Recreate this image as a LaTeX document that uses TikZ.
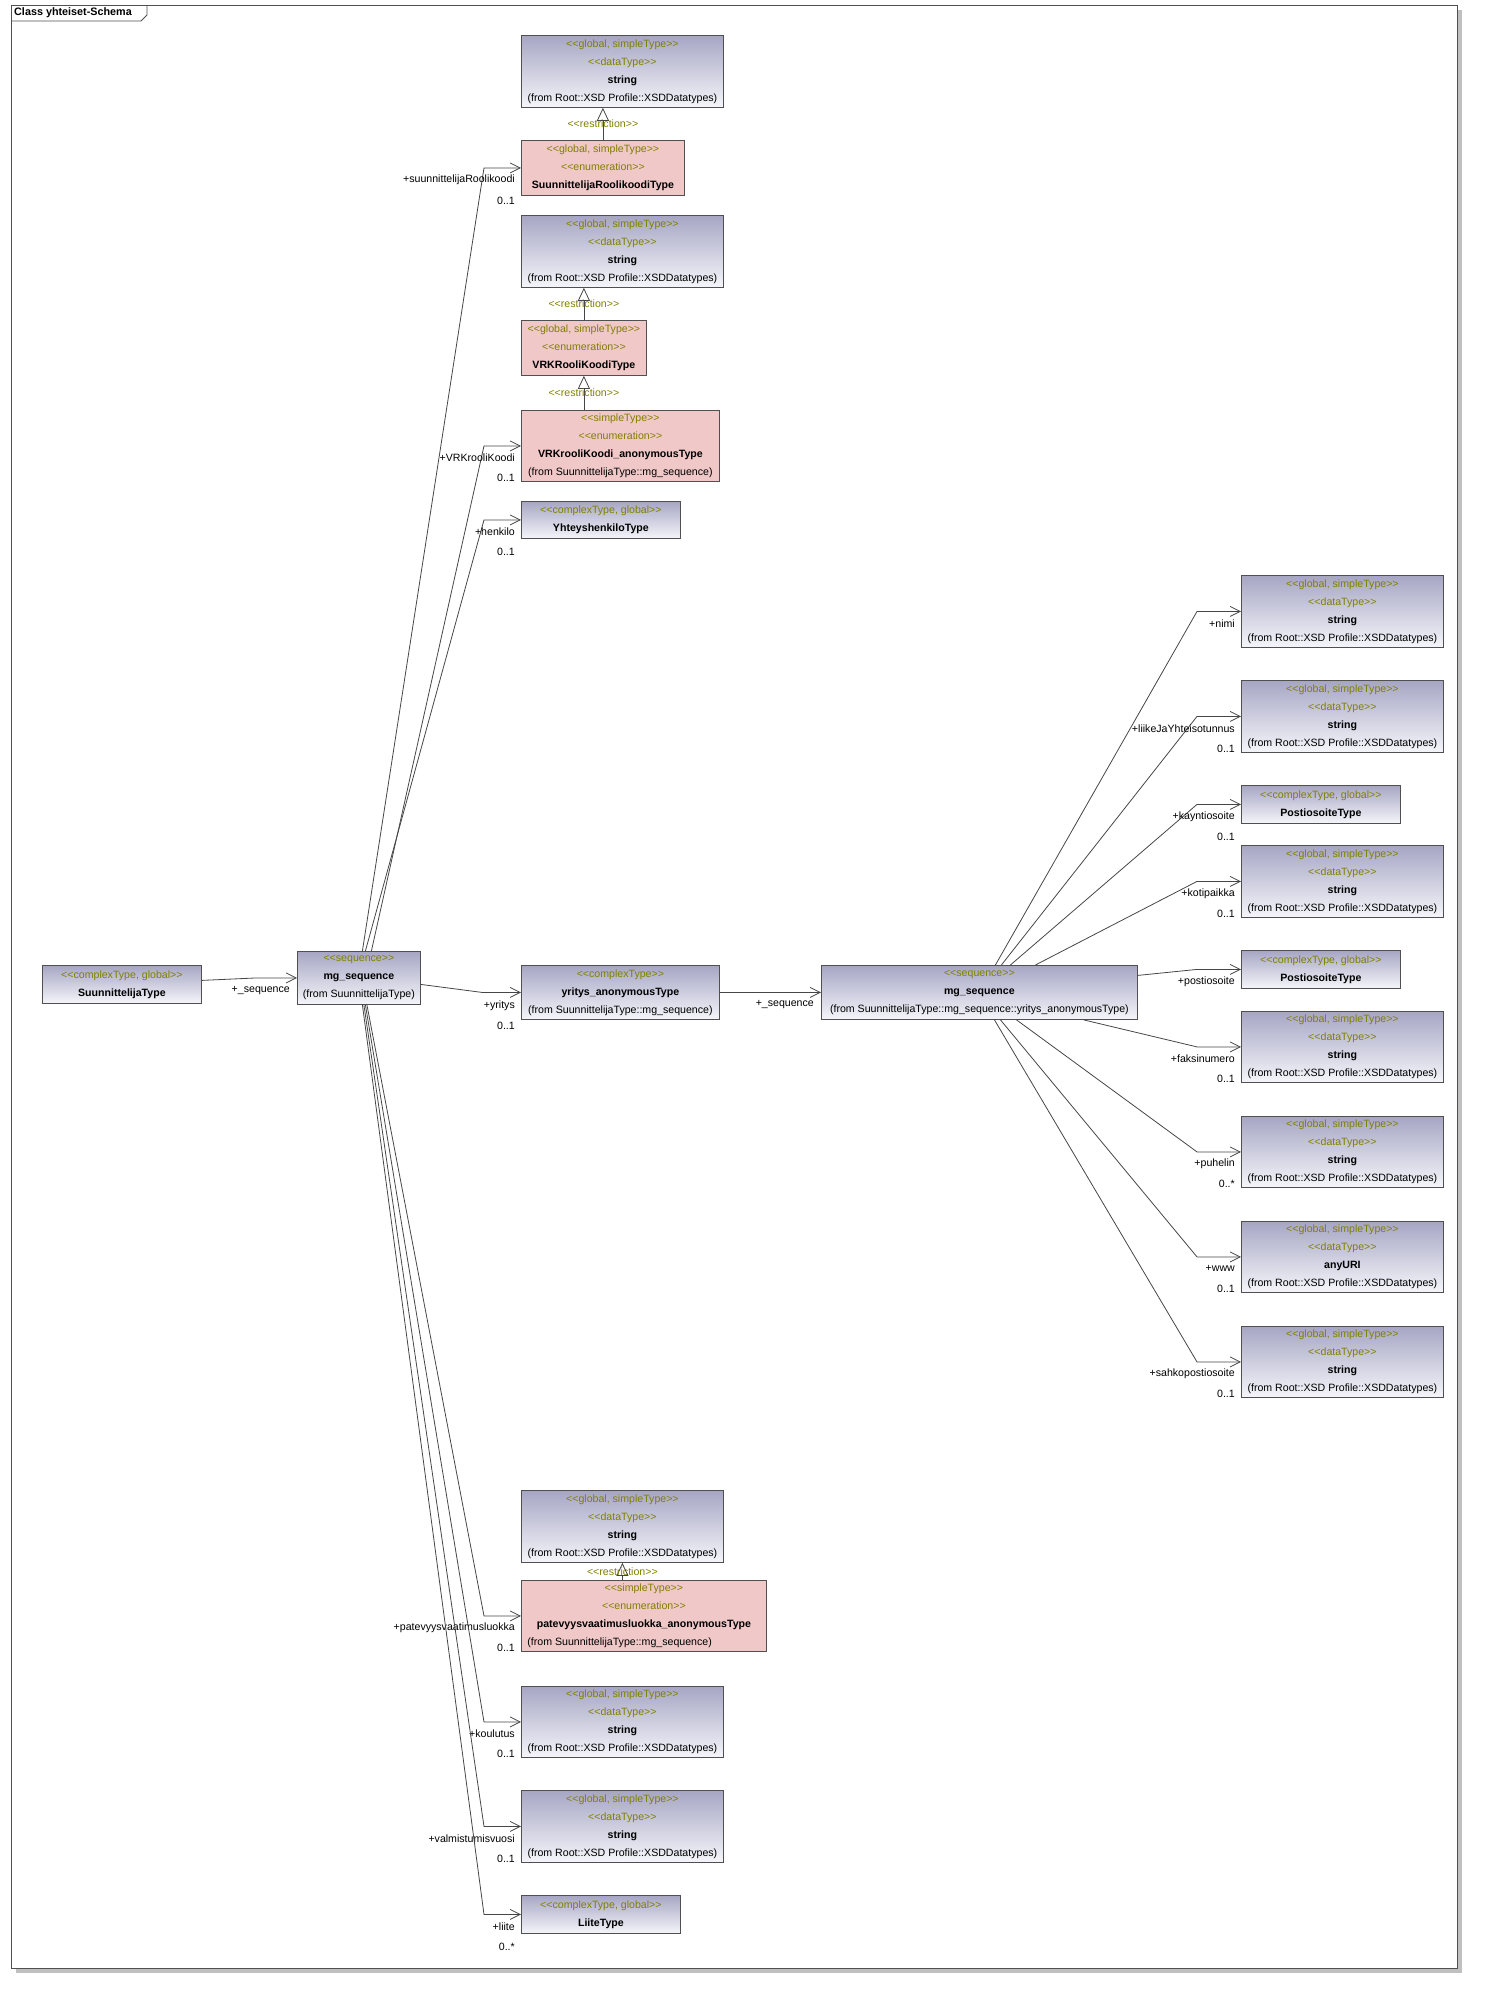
\documentclass[tikz,border=0pt]{standalone}
\usepackage{fontspec}
\setmainfont{Liberation Sans}[Ligatures=TeXOff]
\usetikzlibrary{arrows.meta}
\definecolor{clstop}{RGB}{166,166,196}
\definecolor{clsbot}{RGB}{245,245,250}
\definecolor{enumpink}{RGB}{240,200,200}
\definecolor{stereo}{RGB}{128,128,0}
\definecolor{boxline}{RGB}{80,80,80}
\definecolor{relline}{RGB}{70,70,70}
\definecolor{shadowgray}{RGB}{192,192,192}
\newcommand{\stp}[1]{\textcolor{stereo}{#1}}
\tikzset{
  base/.style={draw=boxline, line width=0.8pt, anchor=north west, align=center, inner sep=0pt, font=\fontsize{10.6}{18}\selectfont, execute at begin node={\rule{0pt}{10.4pt}}},
  cls/.style={base, top color=clstop, bottom color=clsbot},
  enm/.style={base, fill=enumpink},
  rel/.style={draw=relline, line width=0.8pt, -{Straight Barb[length=10pt,width=10pt]}},
  restr/.style={draw=relline, line width=0.8pt, -{Triangle[open,length=13pt,width=12pt]}},
  role/.style={anchor=east, inner sep=0pt, font=\fontsize{10.6}{12}\selectfont},
  rlab/.style={inner sep=0pt, font=\fontsize{10.6}{12}\selectfont, text=stereo},
}

\begin{document}
\begin{tikzpicture}[x=1pt,y=-1pt]
			%%%%% START %%%%%
			\useasboundingbox (0,0) rectangle (1484,1989);

			% frame and its shadow
			\fill[shadowgray] (1457,10) rectangle (1462,1973);
			\fill[shadowgray] (16,1968) rectangle (1462,1973);
			\draw[boxline, line width=0.8pt] (11.6,5.3) rectangle (1457,1968);
			\draw[boxline, line width=0.8pt] (11.6,21) -- (141,21) -- (147,15) -- (147,5.3);
			\node[anchor=west, inner sep=0pt, font=\fontsize{10.8}{12}\selectfont\bfseries] (title) at (14,13) {Class yhteiset-Schema};

			% upper column
			\node[cls, minimum width=202pt, minimum height=72pt] (str1) at (521,35) {\stp{<<global, simpleType>>}\\\stp{<<dataType>>}\\\textbf{string}\\(from Root::XSD Profile::XSDDatatypes)};
			\node[enm, minimum width=163pt, minimum height=55pt] (suunnRK) at (521,140) {\stp{<<global, simpleType>>}\\\stp{<<enumeration>>}\\\textbf{SuunnittelijaRoolikoodiType}};
			\node[cls, minimum width=202pt, minimum height=72pt] (str2) at (521,215) {\stp{<<global, simpleType>>}\\\stp{<<dataType>>}\\\textbf{string}\\(from Root::XSD Profile::XSDDatatypes)};
			\node[enm, minimum width=125pt, minimum height=55pt] (vrkRK) at (521,320) {\stp{<<global, simpleType>>}\\\stp{<<enumeration>>}\\\textbf{VRKRooliKoodiType}};
			\node[enm, minimum width=198pt, minimum height=71pt] (vrkAnon) at (521,410) {\stp{<<simpleType>>}\\\stp{<<enumeration>>}\\\textbf{VRKrooliKoodi\_anonymousType}\\(from SuunnittelijaType::mg\_sequence)};
			\node[cls, minimum width=159pt, minimum height=37pt] (yhteys) at (521,501) {\stp{<<complexType, global>>}\\\textbf{YhteyshenkiloType}};

			% middle row
			\node[cls, minimum width=159pt, minimum height=38pt] (suunnT) at (42,965) {\stp{<<complexType, global>>}\\\textbf{SuunnittelijaType}};
			\node[cls, minimum width=123pt, minimum height=53pt] (mgSeq) at (297,951) {\stp{<<sequence>>}\\\textbf{mg\_sequence}\\(from SuunnittelijaType)};
			\node[cls, minimum width=198pt, minimum height=54pt] (yritys) at (521,965) {\stp{<<complexType>>}\\\textbf{yritys\_anonymousType}\\(from SuunnittelijaType::mg\_sequence)};
			\node[cls, minimum width=316pt, minimum height=54pt] (mgSeqY) at (821,965) {\stp{<<sequence>>}\\\textbf{mg\_sequence}\\(from SuunnittelijaType::mg\_sequence::yritys\_anonymousType)};

			% lower column
			\node[cls, minimum width=202pt, minimum height=72pt] (str3) at (521,1490) {\stp{<<global, simpleType>>}\\\stp{<<dataType>>}\\\textbf{string}\\(from Root::XSD Profile::XSDDatatypes)};
			\node[enm, minimum width=245pt, minimum height=71pt] (patAnon) at (521,1580) {\stp{<<simpleType>>}\\\stp{<<enumeration>>}\\\textbf{patevyysvaatimusluokka\_anonymousType}\\\makebox[233pt][l]{(from SuunnittelijaType::mg\_sequence)}};
			\node[cls, minimum width=202pt, minimum height=71pt] (strKoul) at (521,1686) {\stp{<<global, simpleType>>}\\\stp{<<dataType>>}\\\textbf{string}\\(from Root::XSD Profile::XSDDatatypes)};
			\node[cls, minimum width=202pt, minimum height=72pt] (strValm) at (521,1790) {\stp{<<global, simpleType>>}\\\stp{<<dataType>>}\\\textbf{string}\\(from Root::XSD Profile::XSDDatatypes)};
			\node[cls, minimum width=159pt, minimum height=38pt] (liite) at (521,1895) {\stp{<<complexType, global>>}\\\textbf{LiiteType}};

			% right column
			\node[cls, minimum width=202pt, minimum height=72pt] (strNimi) at (1241,575) {\stp{<<global, simpleType>>}\\\stp{<<dataType>>}\\\textbf{string}\\(from Root::XSD Profile::XSDDatatypes)};
			\node[cls, minimum width=202pt, minimum height=72pt] (strLiike) at (1241,680) {\stp{<<global, simpleType>>}\\\stp{<<dataType>>}\\\textbf{string}\\(from Root::XSD Profile::XSDDatatypes)};
			\node[cls, minimum width=159pt, minimum height=38pt] (postK) at (1241,785) {\stp{<<complexType, global>>}\\\textbf{PostiosoiteType}};
			\node[cls, minimum width=202pt, minimum height=72pt] (strKoti) at (1241,845) {\stp{<<global, simpleType>>}\\\stp{<<dataType>>}\\\textbf{string}\\(from Root::XSD Profile::XSDDatatypes)};
			\node[cls, minimum width=159pt, minimum height=38pt] (postP) at (1241,950) {\stp{<<complexType, global>>}\\\textbf{PostiosoiteType}};
			\node[cls, minimum width=202pt, minimum height=71pt] (strFaks) at (1241,1011) {\stp{<<global, simpleType>>}\\\stp{<<dataType>>}\\\textbf{string}\\(from Root::XSD Profile::XSDDatatypes)};
			\node[cls, minimum width=202pt, minimum height=71pt] (strPuh) at (1241,1116) {\stp{<<global, simpleType>>}\\\stp{<<dataType>>}\\\textbf{string}\\(from Root::XSD Profile::XSDDatatypes)};
			\node[cls, minimum width=202pt, minimum height=71pt] (uriWww) at (1241,1221) {\stp{<<global, simpleType>>}\\\stp{<<dataType>>}\\\textbf{anyURI}\\(from Root::XSD Profile::XSDDatatypes)};
			\node[cls, minimum width=202pt, minimum height=71pt] (strSahko) at (1241,1326) {\stp{<<global, simpleType>>}\\\stp{<<dataType>>}\\\textbf{string}\\(from Root::XSD Profile::XSDDatatypes)};

			% restrictions
			\draw[restr] (suunnRK.north) -- node[rlab] (rs1) {<<restriction>>} (suunnRK.north |- str1.south);
			\draw[restr] (vrkRK.north) -- node[rlab] (rs2) {<<restriction>>} (vrkRK.north |- str2.south);
			\draw[restr] (vrkRK.south |- vrkAnon.north) -- node[rlab] (rs3) {<<restriction>>} (vrkRK.south);
			\draw[restr] (str3.south |- patAnon.north) -- node[rlab] (rs4) {<<restriction>>} (str3.south);

			% SuunnittelijaType -> mg_sequence -> yritys -> mg_sequence
			\draw[rel] ([yshift=4pt]suunnT.east) -- ([xshift=-40pt]mgSeq.west) -- (mgSeq.west);
			\node[role] (rSeq) at ([xshift=-7pt,yshift=-12.5pt]mgSeq.west) {+\_sequence};
			\draw[rel] ([yshift=-6.5pt]mgSeq.east) -- ([xshift=-39pt]yritys.west) -- (yritys.west);
			\node[role] (rYri) at ([xshift=-6pt,yshift=-13pt]yritys.west) {+yritys};
			\node[role] (mYri) at ([xshift=-6pt,yshift=-33pt]yritys.west) {0..1};
			\draw[rel] (yritys.east) -- (mgSeqY.west);
			\node[role] (rSeqY) at ([xshift=-7pt,yshift=-12pt]mgSeqY.west) {+\_sequence};

			% mg_sequence -> upper column
			\draw[rel] ([xshift=3.5pt]mgSeq.north) -- ([xshift=-37pt]suunnRK.west) -- (suunnRK.west);
			\node[role] (rSuunn) at ([xshift=-6pt,yshift=-12pt]suunnRK.west) {+suunnittelijaRoolikoodi};
			\node[role] (mSuunn) at ([xshift=-6pt,yshift=-33pt]suunnRK.west) {0..1};
			\draw[rel] ([xshift=12.5pt]mgSeq.north) -- ([xshift=-37pt]vrkAnon.west) -- (vrkAnon.west);
			\node[role] (rVrk) at ([xshift=-6pt,yshift=-12pt]vrkAnon.west) {+VRKrooliKoodi};
			\node[role] (mVrk) at ([xshift=-6pt,yshift=-32pt]vrkAnon.west) {0..1};
			\draw[rel] ([xshift=6.5pt]mgSeq.north) -- ([xshift=-37pt]yhteys.west) -- (yhteys.west);
			\node[role] (rHenk) at ([xshift=-6pt,yshift=-12pt]yhteys.west) {+henkilo};
			\node[role] (mHenk) at ([xshift=-6pt,yshift=-32pt]yhteys.west) {0..1};

			% mg_sequence -> lower column
			\draw[rel] ([xshift=8pt]mgSeq.south) -- ([xshift=-37pt]patAnon.west) -- (patAnon.west);
			\node[role] (rPat) at ([xshift=-6pt,yshift=-12pt]patAnon.west) {+patevyysvaatimusluokka};
			\node[role] (mPat) at ([xshift=-6pt,yshift=-32pt]patAnon.west) {0..1};
			\draw[rel] ([xshift=6.5pt]mgSeq.south) -- ([xshift=-37pt]strKoul.west) -- (strKoul.west);
			\node[role] (rKoul) at ([xshift=-6pt,yshift=-12pt]strKoul.west) {+koulutus};
			\node[role] (mKoul) at ([xshift=-6pt,yshift=-32pt]strKoul.west) {0..1};
			\draw[rel] ([xshift=5pt]mgSeq.south) -- ([xshift=-37pt]strValm.west) -- (strValm.west);
			\node[role] (rValm) at ([xshift=-6pt,yshift=-12pt]strValm.west) {+valmistumisvuosi};
			\node[role] (mValm) at ([xshift=-6pt,yshift=-32pt]strValm.west) {0..1};
			\draw[rel] ([xshift=3.5pt]mgSeq.south) -- ([xshift=-37pt]liite.west) -- (liite.west);
			\node[role] (rLiite) at ([xshift=-6pt,yshift=-12pt]liite.west) {+liite};
			\node[role] (mLiite) at ([xshift=-6pt,yshift=-32pt]liite.west) {0..*};

			% mg_sequence (yritys) -> right column
			\draw[rel] ([xshift=16pt]mgSeqY.north) -- ([xshift=-44pt]strNimi.west) -- (strNimi.west);
			\node[role] (rNimi) at ([xshift=-6pt,yshift=-12pt]strNimi.west) {+nimi};
			\draw[rel] ([xshift=22pt]mgSeqY.north) -- ([xshift=-44pt]strLiike.west) -- (strLiike.west);
			\node[role] (rLiike) at ([xshift=-6pt,yshift=-12pt]strLiike.west) {+liikeJaYhteisotunnus};
			\node[role] (mLiike) at ([xshift=-6pt,yshift=-32pt]strLiike.west) {0..1};
			\draw[rel] ([xshift=31pt]mgSeqY.north) -- ([xshift=-44pt]postK.west) -- (postK.west);
			\node[role] (rKaynti) at ([xshift=-6pt,yshift=-12pt]postK.west) {+kayntiosoite};
			\node[role] (mKaynti) at ([xshift=-6pt,yshift=-32pt]postK.west) {0..1};
			\draw[rel] ([xshift=56pt]mgSeqY.north) -- ([xshift=-44pt]strKoti.west) -- (strKoti.west);
			\node[role] (rKoti) at ([xshift=-6pt,yshift=-12pt]strKoti.west) {+kotipaikka};
			\node[role] (mKoti) at ([xshift=-6pt,yshift=-32pt]strKoti.west) {0..1};
			\draw[rel] ([yshift=17pt]mgSeqY.east) -- ([xshift=-44pt]postP.west) -- (postP.west);
			\node[role] (rPosti) at ([xshift=-6pt,yshift=-12pt]postP.west) {+postiosoite};
			\draw[rel] ([xshift=104pt]mgSeqY.south) -- ([xshift=-44pt]strFaks.west) -- (strFaks.west);
			\node[role] (rFaks) at ([xshift=-6pt,yshift=-12pt]strFaks.west) {+faksinumero};
			\node[role] (mFaks) at ([xshift=-6pt,yshift=-32pt]strFaks.west) {0..1};
			\draw[rel] ([xshift=37pt]mgSeqY.south) -- ([xshift=-44pt]strPuh.west) -- (strPuh.west);
			\node[role] (rPuh) at ([xshift=-6pt,yshift=-12pt]strPuh.west) {+puhelin};
			\node[role] (mPuh) at ([xshift=-6pt,yshift=-32pt]strPuh.west) {0..*};
			\draw[rel] ([xshift=21pt]mgSeqY.south) -- ([xshift=-44pt]uriWww.west) -- (uriWww.west);
			\node[role] (rWww) at ([xshift=-6pt,yshift=-12pt]uriWww.west) {+www};
			\node[role] (mWww) at ([xshift=-6pt,yshift=-32pt]uriWww.west) {0..1};
			\draw[rel] ([xshift=15pt]mgSeqY.south) -- ([xshift=-44pt]strSahko.west) -- (strSahko.west);
			\node[role] (rSahko) at ([xshift=-6pt,yshift=-12pt]strSahko.west) {+sahkopostiosoite};
			\node[role] (mSahko) at ([xshift=-6pt,yshift=-32pt]strSahko.west) {0..1};

			%%%%% END %%%%%
\end{tikzpicture}
\end{document}
